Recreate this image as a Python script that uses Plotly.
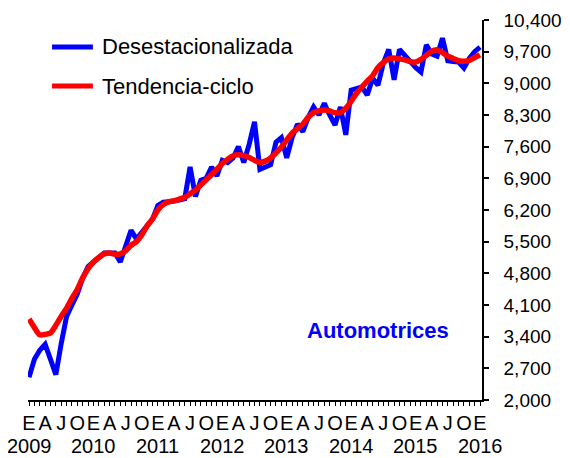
import plotly.graph_objects as go

# Monthly series, Jan 2009 .. Jan 2016 (85 months)
months = list(range(85))
desestacionalizada = [
    # 2009
    2500, 2900, 3100, 3230, 2900, 2560, 3250, 3850, 4100, 4350, 4700, 4950,
    # 2010
    5050, 5150, 5250, 5250, 5250, 5050, 5400, 5750, 5560, 5700, 5820, 6000,
    # 2011
    6300, 6370, 6380, 6390, 6420, 6450, 7150, 6500, 6860, 6900, 7150, 6950,
    # 2012
    7300, 7250, 7350, 7600, 7250, 7650, 8150, 7100, 7150, 7200, 7700, 7800,
    # 2013
    7350, 7800, 8100, 7930, 8250, 8480, 8300, 8560, 8300, 8080, 8480, 7860,
    # 2014
    8850, 8900, 8920, 8740, 9110, 8960, 9450, 9750, 9080, 9750, 9620, 9450,
    # 2015
    9350, 9250, 9850, 9650, 9600, 10000, 9500, 9480, 9470, 9340, 9550, 9700,
    # 2016
    9800,
]
tendencia_ciclo = [
    # 2009
    3790, 3600, 3440, 3450, 3480, 3650, 3850, 4030, 4250, 4450, 4700, 4900,
    # 2010
    5050, 5150, 5230, 5250, 5220, 5230, 5300, 5420, 5500, 5650, 5850, 6000,
    # 2011
    6200, 6320, 6380, 6400, 6440, 6480, 6560, 6640, 6750, 6870, 6980, 7100,
    # 2012
    7230, 7320, 7400, 7420, 7400, 7360, 7300, 7250, 7280, 7350, 7460, 7590,
    # 2013
    7750, 7900, 8000, 8100, 8250, 8350, 8390, 8410, 8390, 8350, 8350, 8450,
    # 2014
    8600, 8780, 8920, 9050, 9170, 9350, 9460, 9540, 9560, 9540, 9520, 9480,
    # 2015
    9470, 9530, 9620, 9710, 9740, 9680, 9600, 9550, 9500, 9490, 9510, 9570,
    # 2016
    9630,
]
month_letters = ["E", "", "", "A", "", "", "J", "", "", "O", "", ""]
years = ["2009", "2010", "2011", "2012", "2013", "2014", "2015", "2016"]
y_ticks = list(range(2000, 10401, 700))
series_names = ["Desestacionalizada", "Tendencia-ciclo"]
series_colors = ["#0000FF", "#FF0000"]

tick_text = [month_letters[m % 12] for m in months]

FONT = "Liberation Sans, Arial, sans-serif"

fig = go.Figure()
fig.add_trace(go.Scatter(x=months, y=desestacionalizada, mode="lines",
                         name=series_names[0], showlegend=False,
                         line=dict(color=series_colors[0], width=5)))
fig.add_trace(go.Scatter(x=months, y=tendencia_ciclo, mode="lines",
                         name=series_names[1], showlegend=False,
                         line=dict(color=series_colors[1], width=5.5, shape="spline", smoothing=0.6)))

# manual legend
legend_rows = [0.929, 0.826]
for name, color, yy in zip(series_names, series_colors, legend_rows):
    fig.add_shape(type="line", xref="paper", yref="paper",
                  x0=0.053, x1=0.143, y0=yy, y1=yy,
                  line=dict(color=color, width=5))
    fig.add_annotation(text=name, xref="paper", yref="paper", x=0.158, y=yy,
                       xanchor="left", yanchor="middle", showarrow=False,
                       font=dict(family=FONT, size=22, color="black"))

# year labels below the month letters
for i, yr in enumerate(years):
    fig.add_annotation(text=yr, xref="x", yref="paper", x=i * 12, y=-46 / 380,
                       xanchor="center", yanchor="middle", showarrow=False,
                       font=dict(family=FONT, size=20, color="black"))

fig.add_annotation(text="<b>Automotrices</b>", xref="paper", yref="paper",
                   x=0.771, y=0.184, xanchor="center", yanchor="middle",
                   showarrow=False, font=dict(family=FONT, size=22, color="#0000FF"))

# page body has an 8px margin, so the figure is sized/margined to compensate
fig.update_layout(
    width=562, height=450,
    margin=dict(l=20, r=88, t=12, b=58, autoexpand=False),
    paper_bgcolor="white", plot_bgcolor="white",
    font=dict(family=FONT, size=20, color="black"),
    xaxis=dict(range=[-0.19, 84.37], tickmode="array", tickvals=months,
               ticktext=tick_text, ticks="outside", ticklen=4, tickwidth=1,
               tickcolor="black", showline=True, linecolor="black", linewidth=1.5,
               showgrid=False, zeroline=False, tickangle=0, automargin=False,
               tickfont=dict(family=FONT, size=20, color="black")),
    yaxis=dict(range=[2000, 10400], side="right", tickmode="array",
               tickvals=y_ticks, ticktext=[f"{v:,}" for v in y_ticks],
               ticks="outside", ticklen=5, tickwidth=1.5, tickcolor="black",
               showline=True, linecolor="black", linewidth=1.5, automargin=False,
               showgrid=False, zeroline=False, ticklabelstandoff=11,
               tickfont=dict(family=FONT, size=19, color="black")),
)

fig.write_html("out.html")
